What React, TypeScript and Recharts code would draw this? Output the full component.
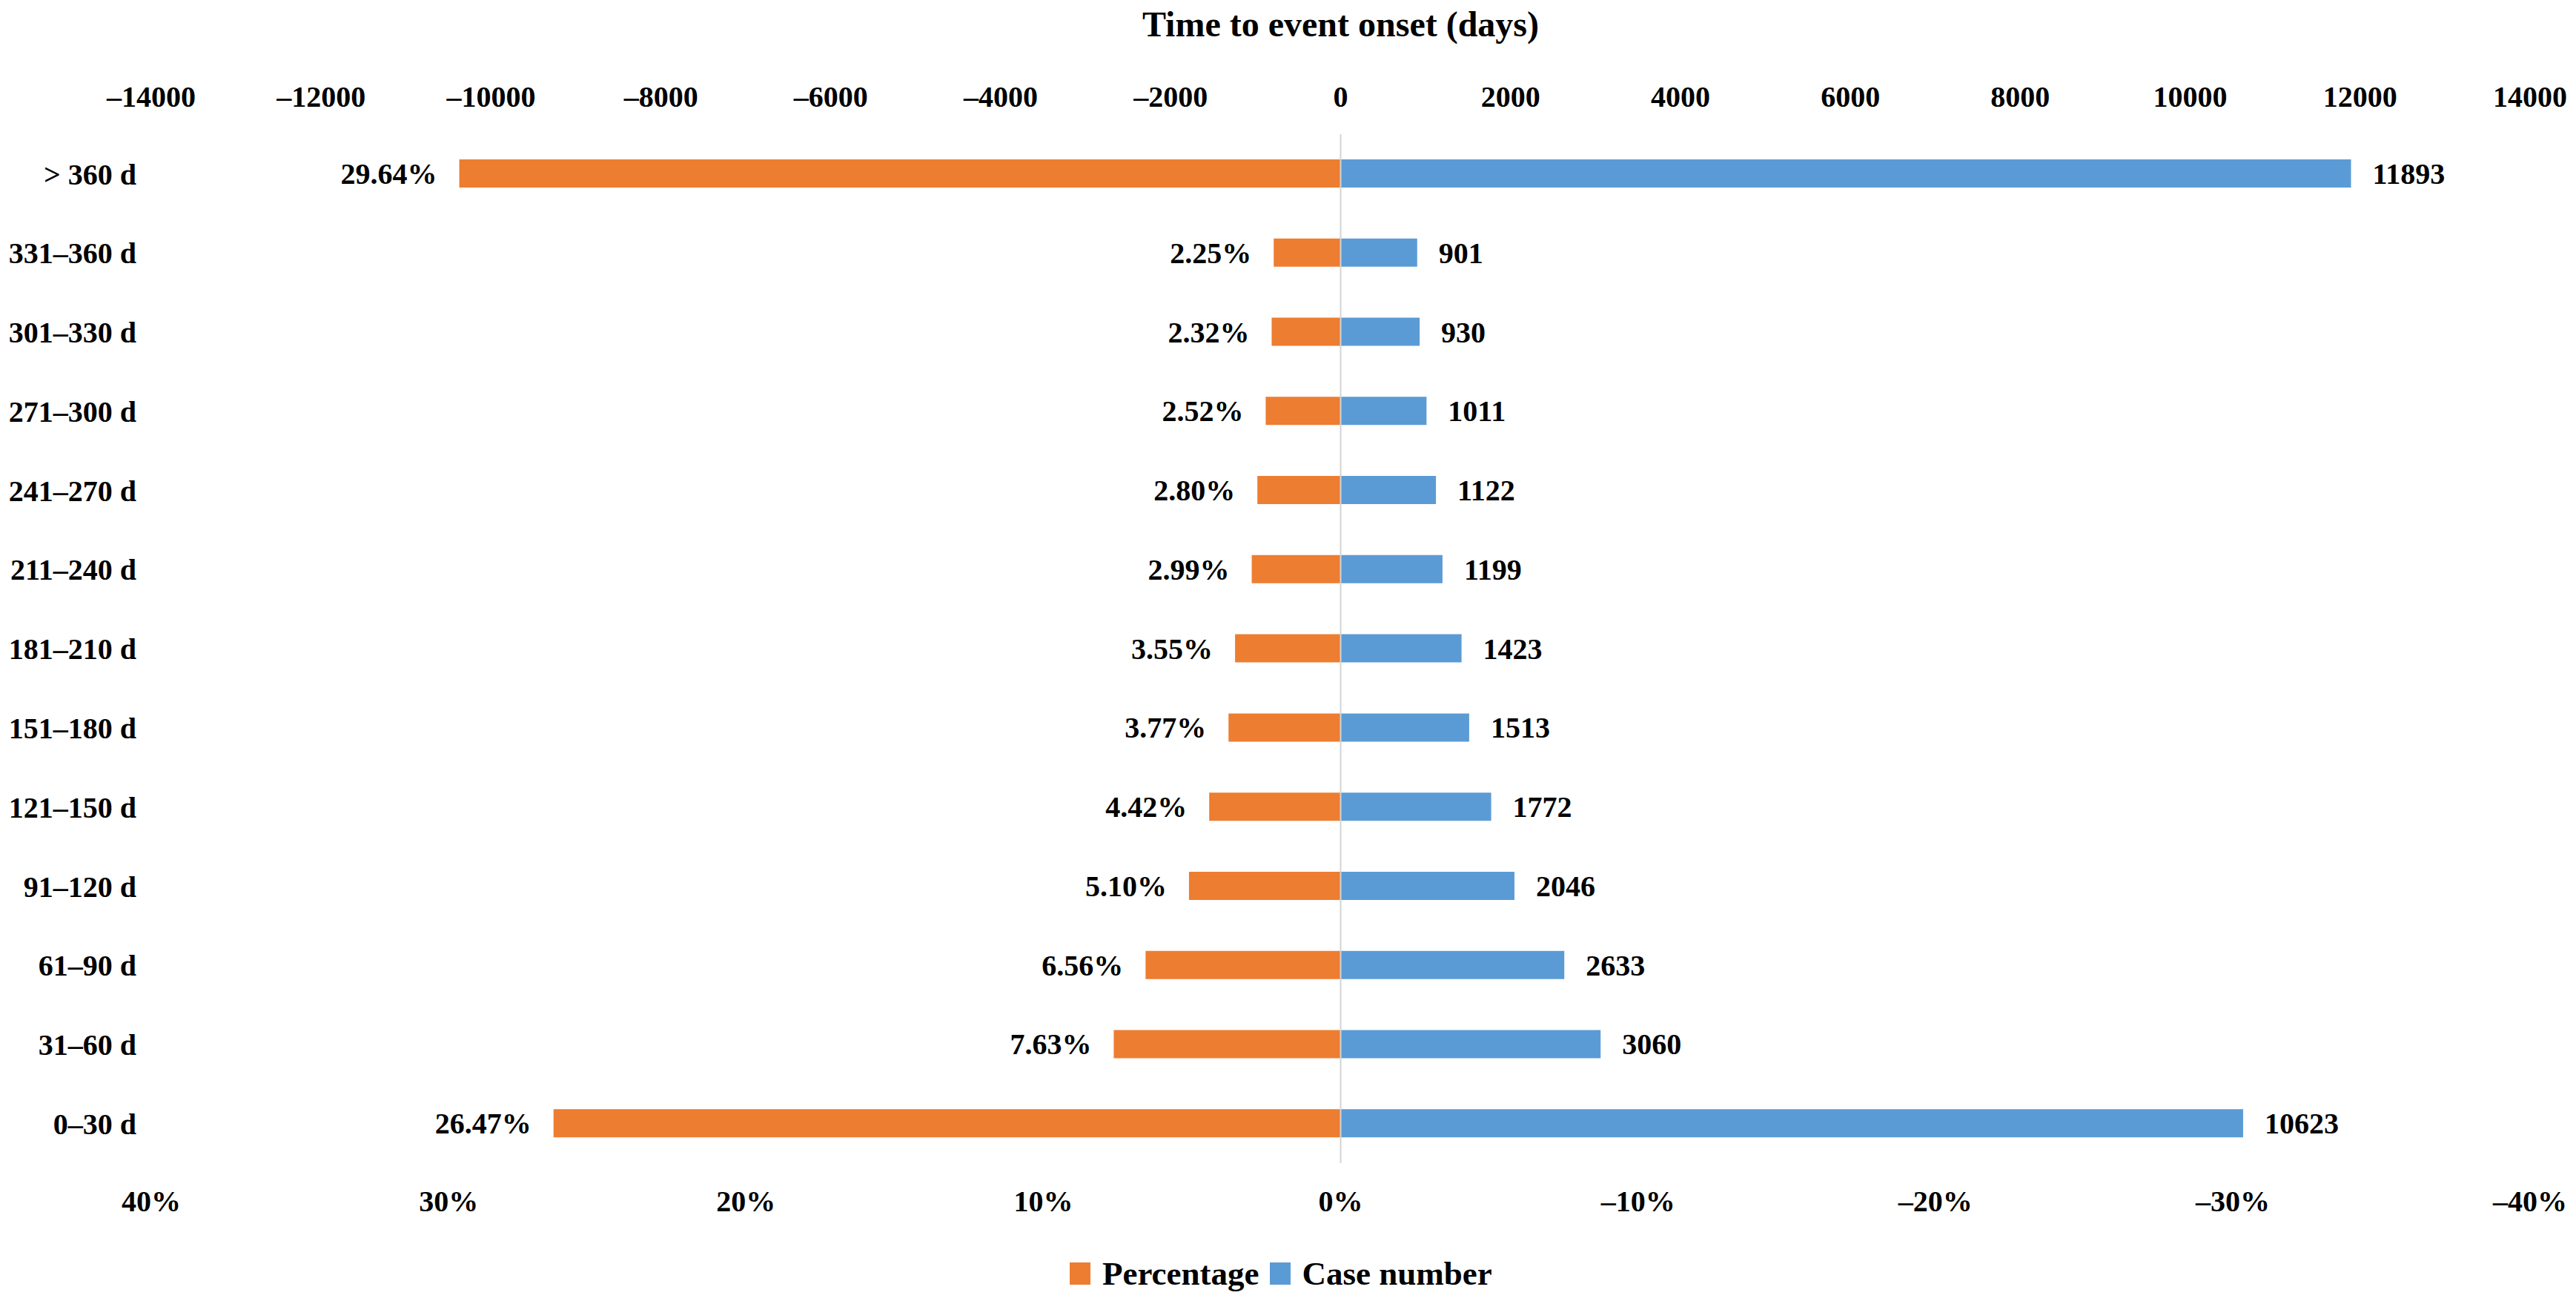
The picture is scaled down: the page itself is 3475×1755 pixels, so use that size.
import React from 'react';
import { BarChart, Bar, XAxis, YAxis, ReferenceLine, LabelList, Legend } from 'recharts';

const categories = [
  '> 360 d',
  '331–360 d',
  '301–330 d',
  '271–300 d',
  '241–270 d',
  '211–240 d',
  '181–210 d',
  '151–180 d',
  '121–150 d',
  '91–120 d',
  '61–90 d',
  '31–60 d',
  '0–30 d',
];
const percentages = [29.64, 2.25, 2.32, 2.52, 2.8, 2.99, 3.55, 3.77, 4.42, 5.1, 6.56, 7.63, 26.47];
const caseNumbers = [11893, 901, 930, 1011, 1122, 1199, 1423, 1513, 1772, 2046, 2633, 3060, 10623];
const caseTicks = [-14000, -12000, -10000, -8000, -6000, -4000, -2000, 0, 2000, 4000, 6000, 8000, 10000, 12000, 14000];
const percentTicks = [-40, -30, -20, -10, 0, 10, 20, 30, 40];
const seriesNames = ['Percentage', 'Case number'];

const data = categories.map((label, i) => ({
  label,
  percentage: percentages[i],
  cases: caseNumbers[i],
}));

const FONT = "'Liberation Serif', 'Times New Roman', Times, serif";
const ORANGE = '#ED7D31';
const BLUE = '#5B9BD5';

const withDash = (v: number) => (v < 0 ? '\u2013' + Math.abs(v) : String(v));

const tickStyle = { fontSize: 40, fontWeight: 700, fill: '#000', fontFamily: FONT };

function PctLabel(props: any) {
  const vb = props.viewBox || props;
  const x = Number(vb.x);
  const w = Number(vb.width);
  const y = Number(vb.y);
  const h = Number(vb.height);
  const left = Math.min(x, x + w);
  return (
    <text
      x={left - 30}
      y={y + h / 2}
      dy="0.35em"
      textAnchor="end"
      fontSize={40}
      fontWeight={700}
      fontFamily={FONT}
      fill="#000"
    >
      {Number(props.value).toFixed(2) + '%'}
    </text>
  );
}

function CaseLabel(props: any) {
  const vb = props.viewBox || props;
  const x = Number(vb.x);
  const w = Number(vb.width);
  const y = Number(vb.y);
  const h = Number(vb.height);
  const right = Math.max(x, x + w);
  return (
    <text
      x={right + 29}
      y={y + h / 2}
      dy="0.35em"
      textAnchor="start"
      fontSize={40}
      fontWeight={700}
      fontFamily={FONT}
      fill="#000"
    >
      {String(props.value)}
    </text>
  );
}

function LegendContent(props: any) {
  const payload = [...(props.payload || [])].sort(
    (a: any, b: any) => seriesNames.indexOf(a.value) - seriesNames.indexOf(b.value)
  );
  return (
    <div
      style={{
        display: 'flex',
        alignItems: 'center',
        height: 50,
        fontFamily: FONT,
        fontWeight: 700,
        fontSize: 45,
        color: '#000',
        whiteSpace: 'nowrap',
      }}
    >
      {payload.map((entry: any, i: number) => (
        <div key={i} style={{ display: 'flex', alignItems: 'center', marginRight: 14 }}>
          <div style={{ width: 28, height: 30, background: entry.color, marginRight: 16 }} />
          <span>{entry.value}</span>
        </div>
      ))}
    </div>
  );
}

export default function App() {
  return (
    <div style={{ width: 3459, height: 1747, background: '#fff' }}>
      <BarChart
        width={3459}
        height={1747}
        data={data}
        layout="vertical"
        margin={{ top: 93, right: 54, bottom: 106, left: 0 }}
        style={{ fontFamily: FONT }}
      >
        <XAxis
          xAxisId="top"
          orientation="top"
          type="number"
          domain={[-14000, 14000]}
          ticks={caseTicks}
          interval={0}
          tickFormatter={withDash}
          axisLine={false}
          tickLine={false}
          tickSize={0}
          tickMargin={37}
          height={80}
          tick={tickStyle}
          allowDataOverflow
          label={{
            value: 'Time to event onset (days)',
            position: 'top',
            offset: 52,
            fontSize: 48,
            fontWeight: 700,
            fill: '#000',
            fontFamily: FONT,
          }}
        />
        <XAxis
          xAxisId="bottom"
          orientation="bottom"
          type="number"
          domain={[-40, 40]}
          reversed
          ticks={percentTicks}
          interval={0}
          tickFormatter={(v: number) => withDash(v) + '%'}
          axisLine={false}
          tickLine={false}
          tickSize={0}
          tickMargin={37}
          height={80}
          tick={tickStyle}
          allowDataOverflow
        />
        <YAxis
          yAxisId="cat"
          type="category"
          dataKey="label"
          width={196}
          axisLine={false}
          tickLine={false}
          tickSize={0}
          tickMargin={20}
          interval={0}
          tick={tickStyle}
        />
        <YAxis yAxisId="cat2" type="category" dataKey="label" hide />
        <ReferenceLine x={0} xAxisId="top" yAxisId="cat" stroke="#d4d4d4" strokeWidth={2} />
        <Bar
          name="Percentage"
          dataKey="percentage"
          xAxisId="bottom"
          yAxisId="cat"
          fill={ORANGE}
          barSize={38}
          isAnimationActive={false}
        >
          <LabelList dataKey="percentage" content={PctLabel} />
        </Bar>
        <Bar
          name="Case number"
          dataKey="cases"
          xAxisId="top"
          yAxisId="cat2"
          fill={BLUE}
          barSize={38}
          isAnimationActive={false}
        >
          <LabelList dataKey="cases" content={CaseLabel} />
        </Bar>
        <Legend
          layout="horizontal"
          verticalAlign="middle"
          align="center"
          content={LegendContent}
          wrapperStyle={{ position: 'absolute', left: 1435, top: 1685, width: 700, height: 50 }}
        />
      </BarChart>
    </div>
  );
}
